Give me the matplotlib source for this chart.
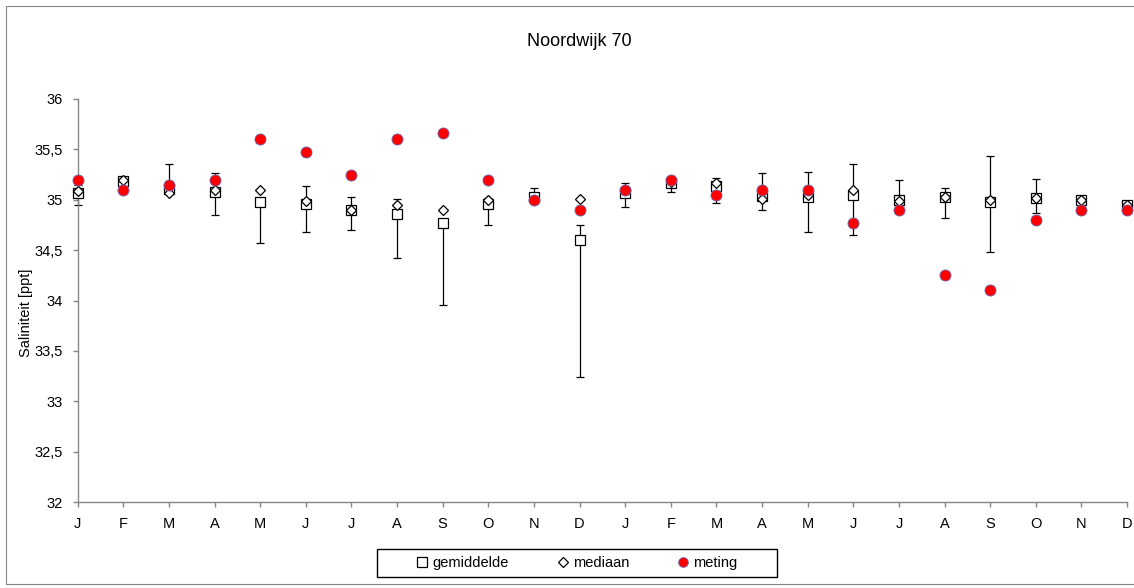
import matplotlib
matplotlib.use("Agg")
import matplotlib.pyplot as plt
import numpy as np
from matplotlib.patches import Rectangle
from matplotlib.lines import Line2D

plt.rcParams['font.family'] = ['Liberation Sans', 'DejaVu Sans']

# Maanden over twee jaar
maanden = ['J', 'F', 'M', 'A', 'M', 'J', 'J', 'A', 'S', 'O', 'N', 'D',
           'J', 'F', 'M', 'A', 'M', 'J', 'J', 'A', 'S', 'O', 'N', 'D']

gemiddelde = [35.07, 35.19, 35.11, 35.08, 34.98, 34.96, 34.90, 34.86, 34.77, 34.96, 35.03, 34.60,
              35.07, 35.17, 35.14, 35.04, 35.03, 35.05, 35.00, 35.03, 34.98, 35.02, 35.00, 34.95]

mediaan = [35.09, 35.20, 35.07, 35.10, 35.10, 34.99, 34.90, 34.95, 34.90, 35.00, 35.00, 35.01,
           35.10, 35.18, 35.17, 35.01, 35.05, 35.10, 34.99, 35.03, 35.00, 35.02, 35.00, 34.95]

meting = [35.20, 35.10, 35.15, 35.20, 35.60, 35.47, 35.25, 35.60, 35.66, 35.20, 35.00, 34.90,
          35.10, 35.20, 35.05, 35.10, 35.10, 34.77, 34.90, 34.25, 34.10, 34.80, 34.90, 34.90]

# Boven- en ondergrens van de foutbalken
bovengrens = [35.15, 35.22, 35.35, 35.27, 34.98, 35.14, 35.03, 35.01, 34.77, 35.02, 35.12, 34.75,
              35.17, 35.22, 35.22, 35.27, 35.28, 35.35, 35.20, 35.12, 35.43, 35.21, 35.03, 34.99]
ondergrens = [34.95, 35.15, 35.11, 34.85, 34.57, 34.68, 34.70, 34.42, 33.96, 34.75, 35.00, 33.24,
              34.93, 35.08, 34.97, 34.90, 34.68, 34.65, 34.92, 34.82, 34.48, 34.87, 34.97, 34.92]

y_ticks = [32, 32.5, 33, 33.5, 34, 34.5, 35, 35.5, 36]
y_ticklabels = ['32', '32,5', '33', '33,5', '34', '34,5', '35', '35,5', '36']

W, H = 1134, 588
fig = plt.figure(figsize=(W / 100, H / 100), dpi=100)
ax = fig.add_axes([77.7 / W, 1 - 502 / H, (1127 - 77.7) / W, (502 - 99) / H])

x = np.arange(len(maanden))
gem = np.array(gemiddelde)
yerr = np.vstack([np.clip(gem - np.array(ondergrens), 0, None),
                  np.clip(np.array(bovengrens) - gem, 0, None)])

ax.errorbar(x, gem, yerr=yerr, fmt='none', ecolor='black', elinewidth=0.9,
            capsize=3, capthick=0.9, zorder=2, clip_on=False)
ax.plot(x, gemiddelde, linestyle='none', marker='s', markersize=7.5,
        markerfacecolor='white', markeredgecolor='black', markeredgewidth=0.9,
        zorder=3, clip_on=False)
ax.plot(x, mediaan, linestyle='none', marker='D', markersize=5.6,
        markerfacecolor='white', markeredgecolor='black', markeredgewidth=0.9,
        zorder=4, clip_on=False)
ax.plot(x, meting, linestyle='none', marker='o', markersize=8,
        markerfacecolor='#ff0000', markeredgecolor='#6a6ab8', markeredgewidth=0.6,
        zorder=5, clip_on=False)

ax.set_xlim(0, len(maanden) - 1)
ax.set_ylim(32, 36)
ax.set_xticks(x)
ax.set_xticklabels(maanden)
ax.set_yticks(y_ticks)
ax.set_yticklabels(y_ticklabels)

for side in ('top', 'right'):
    ax.spines[side].set_visible(False)
for side in ('left', 'bottom'):
    ax.spines[side].set_color('#868686')
    ax.spines[side].set_linewidth(1.0)

ax.tick_params(axis='both', colors='#868686', labelcolor='black', labelsize=10.5,
               length=3.5, width=1.0, direction='out')
ax.tick_params(axis='y', pad=7)
ax.tick_params(axis='x', pad=7)

fig.text(579 / W, 1 - 41 / H, 'Noordwijk 70', ha='center', va='center', fontsize=13)
fig.text(26 / W, 1 - 313 / H, 'Saliniteit [ppt]', ha='center', va='center',
         rotation=90, fontsize=10.5)

# Legenda met eigen kader
fig.patches.append(Rectangle((377 / W, 1 - 577 / H), 400 / W, 28 / H,
                             transform=fig.transFigure, fill=False,
                             edgecolor='black', linewidth=1.0))
handles = [
    Line2D([], [], linestyle='none', marker='s', markersize=7.5,
           markerfacecolor='white', markeredgecolor='black', markeredgewidth=0.9),
    Line2D([], [], linestyle='none', marker='D', markersize=5.0,
           markerfacecolor='white', markeredgecolor='black', markeredgewidth=0.9),
    Line2D([], [], linestyle='none', marker='o', markersize=7,
           markerfacecolor='#ff0000', markeredgecolor='#6a6ab8', markeredgewidth=0.6),
]
fig.legend(handles, ['gemiddelde', 'mediaan', 'meting'], ncol=3, frameon=False,
           loc='center', bbox_to_anchor=(577 / W, 1 - 563 / H), fontsize=10.5,
           handlelength=0.8, handletextpad=0.3, columnspacing=3.3,
           borderpad=0.0, borderaxespad=0.0)

# Kader rond de grafiek
fig.patches.append(Rectangle((5.5 / W, 4.5 / H), (W + 10) / W, (H - 10) / H,
                             transform=fig.transFigure, fill=False,
                             edgecolor='#868686', linewidth=0.8))

fig.savefig('out.png', dpi=100)
